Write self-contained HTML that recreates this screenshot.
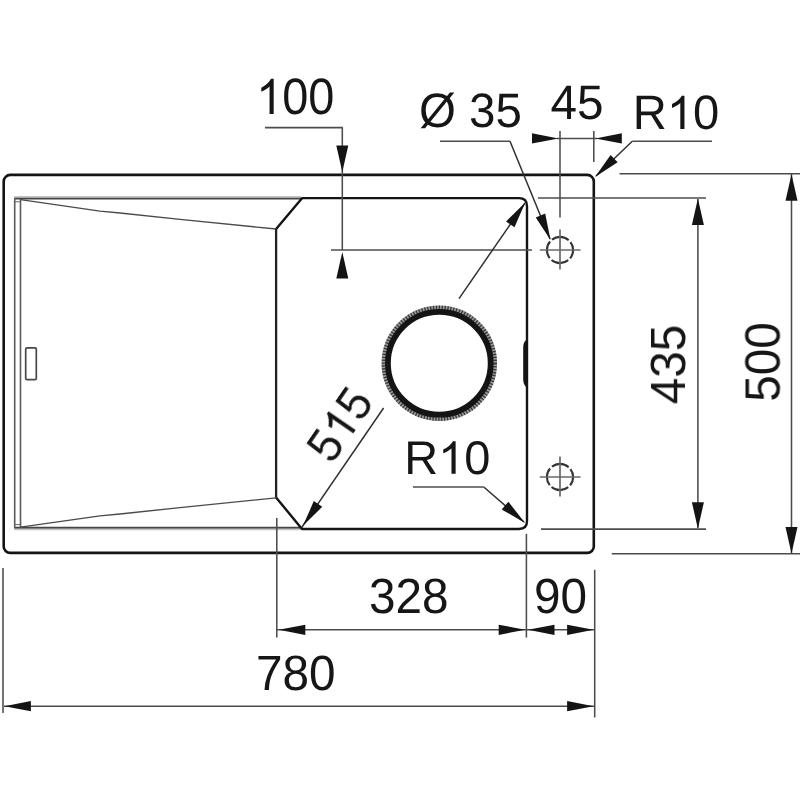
<!DOCTYPE html>
<html><head><meta charset="utf-8"><title>Sink drawing</title>
<style>
html,body{margin:0;padding:0;background:#fff;}
body{width:800px;height:800px;overflow:hidden;}
svg{display:block;font-family:"Liberation Sans",sans-serif;text-rendering:geometricPrecision;}
</style></head><body>
<svg width="800" height="800" viewBox="0 0 800 800">
<defs><filter id="gs" x="-20%" y="-20%" width="140%" height="140%"><feOffset dx="0" dy="0"/></filter></defs>
<rect width="800" height="800" fill="#ffffff"/>
<g>
<rect x="3.7" y="174.9" width="590.0999999999999" height="378.0" rx="6.5" fill="none" stroke="#141414" stroke-width="2.6"/>
<line x1="14.2" y1="196.9" x2="301" y2="196.9" stroke="#c4c4c4" stroke-width="1.6" />
<line x1="14.2" y1="197.9" x2="301" y2="197.9" stroke="#9a9a9a" stroke-width="1.2" />
<line x1="14.2" y1="198.8" x2="302.5" y2="198.8" stroke="#454545" stroke-width="1.5" />
<line x1="14.2" y1="529.5" x2="301" y2="529.5" stroke="#c4c4c4" stroke-width="1.6" />
<line x1="14.2" y1="528.5" x2="301" y2="528.5" stroke="#9a9a9a" stroke-width="1.2" />
<line x1="14.2" y1="527.6" x2="302.5" y2="527.6" stroke="#454545" stroke-width="1.5" />
<line x1="14.7" y1="201.8" x2="20.4" y2="201.8" stroke="#6a6a6a" stroke-width="1.0" />
<line x1="14.7" y1="524.6" x2="20.4" y2="524.6" stroke="#6a6a6a" stroke-width="1.0" />
<line x1="14.7" y1="198.8" x2="14.7" y2="527.6" stroke="#5c5c5c" stroke-width="1.6" />
<line x1="20.5" y1="198.8" x2="20.5" y2="527.6" stroke="#5c5c5c" stroke-width="1.6" />
<polyline points="20.5,199.6 100,211.2 120,213 180,219.4 276,229" fill="none" stroke="#4a4a4a" stroke-width="1.3"/>
<polyline points="20.5,527.2 100,515.8 120,514 180,507.6 276,497.8" fill="none" stroke="#4a4a4a" stroke-width="1.3"/>
<rect x="25.7" y="347.8" width="10.6" height="31.9" rx="1.3" fill="none" stroke="#484848" stroke-width="1.7"/>
<path d="M276.1,229 L302,198.15 L519,198.15 Q527,198.15 527,206.15 L527,521.0 Q527,529.0 519,529.0 L302,529.0 L276.1,497.5" fill="none" stroke="#141414" stroke-width="2.4" stroke-linejoin="round"/>
<line x1="276.1" y1="229" x2="276.1" y2="497.5" stroke="#222" stroke-width="2.3" />
<path d="M527,339.6 Q523.2,341.5 523.2,348 L523.2,379 Q523.2,385.5 527,387.4 Z" fill="#141414"/>
<circle cx="439.3" cy="363.3" r="55.6" fill="none" stroke="#9a9a9a" stroke-width="4.2"/>
<circle cx="439.3" cy="363.3" r="55.6" fill="none" stroke="#3a3a3a" stroke-width="4.2" stroke-dasharray="1.3 1.6"/>
<circle cx="439.3" cy="363.3" r="51.4" fill="none" stroke="#141414" stroke-width="5.8"/>
<circle cx="560.0" cy="250.0" r="13.1" fill="none" stroke="#333" stroke-width="2.1" stroke-dasharray="18.0 2.58" stroke-dashoffset="9.0"/>
<line x1="539.8" y1="250.0" x2="580.6" y2="250.0" stroke="#686868" stroke-width="1.7" />
<line x1="560.0" y1="229.6" x2="560.0" y2="269.6" stroke="#686868" stroke-width="1.7" />
<circle cx="560.0" cy="477.0" r="13.1" fill="none" stroke="#333" stroke-width="2.1" stroke-dasharray="18.0 2.58" stroke-dashoffset="9.0"/>
<line x1="539.8" y1="477.0" x2="580.6" y2="477.0" stroke="#686868" stroke-width="1.7" />
<line x1="560.0" y1="456.6" x2="560.0" y2="496.6" stroke="#686868" stroke-width="1.7" />
<line x1="265" y1="127.6" x2="342.9" y2="127.6" stroke="#4c4c4c" stroke-width="1.55" />
<line x1="342.3" y1="127.6" x2="342.3" y2="250" stroke="#4c4c4c" stroke-width="1.55" />
<polygon points="342.30,172.00 336.30,145.50 348.30,145.50" fill="#141414"/>
<polygon points="342.30,252.00 348.30,278.50 336.30,278.50" fill="#141414"/>
<line x1="331" y1="250" x2="532" y2="250" stroke="#4c4c4c" stroke-width="1.55" />
<line x1="440" y1="141.2" x2="510" y2="141.2" stroke="#4c4c4c" stroke-width="1.55" />
<line x1="510" y1="141.2" x2="550" y2="239" stroke="#303030" stroke-width="1.5" />
<polygon points="550.50,240.00 535.75,217.40 545.19,213.54" fill="#141414"/>
<line x1="560" y1="131" x2="560" y2="217.5" stroke="#4c4c4c" stroke-width="1.55" />
<line x1="593.8" y1="131" x2="593.8" y2="162" stroke="#4c4c4c" stroke-width="1.55" />
<line x1="557" y1="138.4" x2="597" y2="138.4" stroke="#4c4c4c" stroke-width="1.55" />
<polygon points="558.50,138.40 532.00,143.50 532.00,133.30" fill="#141414"/>
<polygon points="595.30,138.40 621.80,133.30 621.80,143.50" fill="#141414"/>
<line x1="632.3" y1="141.2" x2="712" y2="141.2" stroke="#4c4c4c" stroke-width="1.55" />
<line x1="632.3" y1="141.2" x2="596" y2="176" stroke="#303030" stroke-width="1.5" />
<polygon points="595.00,177.00 610.59,154.97 617.65,162.33" fill="#141414"/>
<line x1="538" y1="198.0" x2="706" y2="198.0" stroke="#4c4c4c" stroke-width="1.55" />
<line x1="541" y1="529.1" x2="706" y2="529.1" stroke="#4c4c4c" stroke-width="1.55" />
<line x1="697.9" y1="199" x2="697.9" y2="528" stroke="#4c4c4c" stroke-width="1.55" />
<polygon points="697.90,198.60 703.90,225.10 691.90,225.10" fill="#141414"/>
<polygon points="697.90,528.80 691.90,502.30 703.90,502.30" fill="#141414"/>
<line x1="619.5" y1="173.8" x2="800" y2="173.8" stroke="#4c4c4c" stroke-width="1.55" />
<line x1="611.8" y1="553.8" x2="800" y2="553.8" stroke="#4c4c4c" stroke-width="1.55" />
<line x1="791.5" y1="174" x2="791.5" y2="553" stroke="#4c4c4c" stroke-width="1.55" />
<polygon points="791.50,174.20 797.50,200.70 785.50,200.70" fill="#141414"/>
<polygon points="791.50,553.40 785.50,526.90 797.50,526.90" fill="#141414"/>
<line x1="525" y1="203" x2="459" y2="298.6" stroke="#303030" stroke-width="1.5" />
<line x1="383.6" y1="408" x2="302" y2="527" stroke="#303030" stroke-width="1.5" />
<polygon points="525.30,202.50 514.48,227.22 506.07,221.44" fill="#141414"/>
<polygon points="303.00,525.80 313.82,501.08 322.23,506.86" fill="#141414"/>
<line x1="413" y1="487" x2="483.8" y2="487" stroke="#4c4c4c" stroke-width="1.55" />
<line x1="483.8" y1="487" x2="524" y2="522" stroke="#303030" stroke-width="1.5" />
<polygon points="525.00,523.00 501.69,509.40 508.40,501.72" fill="#141414"/>
<line x1="276.8" y1="518" x2="276.8" y2="637.6" stroke="#4c4c4c" stroke-width="1.55" />
<line x1="526.4" y1="533.8" x2="526.4" y2="637.6" stroke="#4c4c4c" stroke-width="1.55" />
<line x1="594.7" y1="569.8" x2="594.7" y2="717.5" stroke="#4c4c4c" stroke-width="1.55" />
<line x1="277" y1="629.8" x2="594" y2="629.8" stroke="#4c4c4c" stroke-width="1.55" />
<polygon points="278.80,629.80 305.30,624.70 305.30,634.90" fill="#141414"/>
<polygon points="525.20,629.80 498.70,634.90 498.70,624.70" fill="#141414"/>
<polygon points="528.00,629.80 554.50,624.70 554.50,634.90" fill="#141414"/>
<polygon points="593.60,629.80 567.10,634.90 567.10,624.70" fill="#141414"/>
<line x1="3.0" y1="568" x2="3.0" y2="713" stroke="#4c4c4c" stroke-width="1.55" />
<line x1="4" y1="706.2" x2="594" y2="706.2" stroke="#4c4c4c" stroke-width="1.55" />
<polygon points="4.40,706.20 30.90,701.10 30.90,711.30" fill="#141414"/>
<polygon points="593.60,706.20 567.10,711.30 567.10,701.10" fill="#141414"/>
<g transform="translate(256.2 114) scale(0.918 1)" fill="#161616" font-size="51.1" filter="url(#gs)">
<path transform="translate(0.00 0) scale(0.02495 -0.02388)" d="M763 0H583V1147Q518 1085 412.5 1023T223 930V1104Q374 1175 487 1276T647 1472H763Z"/>
<text x="28.42" y="0">0</text>
<text x="56.84" y="0">0</text>
</g>
<g transform="translate(419 127.0) scale(0.985 1)" fill="#161616" font-size="48.2" filter="url(#gs)">
<text x="0.00" y="0">Ø</text>
<text x="50.88" y="0">3</text>
<text x="77.69" y="0">5</text>
</g>
<g transform="translate(550.6 118.8) scale(0.985 1)" fill="#161616" font-size="48.4" filter="url(#gs)">
<text x="0.00" y="0">4</text>
<text x="26.92" y="0">5</text>
</g>
<g transform="translate(632.8 129.0) scale(0.975 1)" fill="#161616" font-size="48.4" filter="url(#gs)">
<text x="0.00" y="0">R</text>
<path transform="translate(34.95 0) scale(0.02363 -0.02262)" d="M763 0H583V1147Q518 1085 412.5 1023T223 930V1104Q374 1175 487 1276T647 1472H763Z"/>
<text x="61.87" y="0">0</text>
</g>
<g transform="translate(404.2 473.8) scale(0.995 1)" fill="#161616" font-size="47.2" filter="url(#gs)">
<text x="0.00" y="0">R</text>
<path transform="translate(34.09 0) scale(0.02305 -0.02206)" d="M763 0H583V1147Q518 1085 412.5 1023T223 930V1104Q374 1175 487 1276T647 1472H763Z"/>
<text x="60.34" y="0">0</text>
</g>
<g transform="translate(369 612.5) scale(0.962 1)" fill="#161616" font-size="49.6" filter="url(#gs)">
<text x="0.00" y="0">3</text>
<text x="27.59" y="0">2</text>
<text x="55.17" y="0">8</text>
</g>
<g transform="translate(534 612.5) scale(0.962 1)" fill="#161616" font-size="49.6" filter="url(#gs)">
<text x="0.00" y="0">9</text>
<text x="27.59" y="0">0</text>
</g>
<g transform="translate(256 690) scale(0.962 1)" fill="#161616" font-size="49.6" filter="url(#gs)">
<text x="0.00" y="0">7</text>
<text x="27.59" y="0">8</text>
<text x="55.17" y="0">0</text>
</g>
<g transform="translate(685 364.5) rotate(-90) scale(0.962 1)" fill="#161616" font-size="49.6" filter="url(#gs)">
<text x="-41.38" y="0">4</text>
<text x="-13.79" y="0">3</text>
<text x="13.79" y="0">5</text>
</g>
<g transform="translate(779.5 362) rotate(-90) scale(0.962 1)" fill="#161616" font-size="49.6" filter="url(#gs)">
<text x="-41.38" y="0">5</text>
<text x="-13.79" y="0">0</text>
<text x="13.79" y="0">0</text>
</g>
<g transform="translate(353.2 433.6) rotate(-55.5) scale(0.962 1)" fill="#161616" font-size="47.8" filter="url(#gs)">
<text x="-39.88" y="0">5</text>
<path transform="translate(-13.29 0) scale(0.02334 -0.02234)" d="M763 0H583V1147Q518 1085 412.5 1023T223 930V1104Q374 1175 487 1276T647 1472H763Z"/>
<text x="13.29" y="0">5</text>
</g>
</g>
</svg>
</body></html>
